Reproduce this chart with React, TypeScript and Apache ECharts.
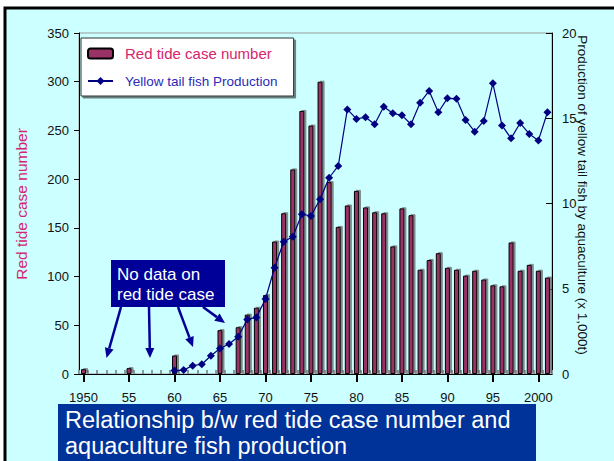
import React, { useEffect, useRef } from "react";
import * as echarts from "echarts";

const years: string[] = [];
for (let y = 1950; y <= 2001; y++) years.push(String(y));

// Red tide case number (null = no data)
const redTide: (number | null)[] = [
  5, null, null, null, null, 6, null, null, null, null,
  19, null, null, null, null, 45, null, 48, 61, 68,
  81, 136, 165, 210, 270, 255, 300, 197, 151, 173,
  188, 171, 166, 165, 131, 170, 163, 107, 117, 124,
  109, 107, 101, 106, 97, 91, 90, 135, 106, 112,
  106, 99,
];

// Yellow tail fish production by aquaculture (x 1,000 t)
const yellowTail: (number | null)[] = [
  null, null, null, null, null, null, null, null, null, null,
  0.2, 0.23, 0.49, 0.57, 1.07, 1.5, 1.76, 2.19, 3.2, 3.32,
  4.4, 6.23, 7.76, 8.05, 9.37, 9.27, 10.25, 11.51, 12.2, 15.52,
  14.96, 15.06, 14.65, 15.68, 15.29, 15.17, 14.65, 15.91, 16.6, 15.35,
  16.17, 16.15, 14.9, 14.21, 14.84, 17.05, 14.58, 13.82, 14.72, 14.08,
  13.69, 15.35,
];

const leftTicks = { min: 0, max: 350, interval: 50 };
const rightTicks = { min: 0, max: 20, interval: 5 };

const FONT = "Liberation Sans, Arial, sans-serif";
const PINK = "#d6246e";
const NAVY = "#000080";
const ANNO = "#000099";

function arrow(x1: number, y1: number, x2: number, y2: number) {
  const dx = x2 - x1;
  const dy = y2 - y1;
  const len = Math.sqrt(dx * dx + dy * dy);
  const ux = dx / len;
  const uy = dy / len;
  const hl = 10;
  const hw = 4.5;
  const bx = x2 - ux * hl;
  const by = y2 - uy * hl;
  return [
    {
      type: "line",
      z: 100,
      shape: { x1, y1, x2: bx, y2: by },
      style: { stroke: ANNO, lineWidth: 2.5 },
    },
    {
      type: "polygon",
      z: 100,
      shape: {
        points: [
          [x2, y2],
          [bx - uy * hw, by + ux * hw],
          [bx + uy * hw, by - ux * hw],
        ],
      },
      style: { fill: ANNO },
    },
  ];
}

export default function App() {
  const ref = useRef<HTMLDivElement>(null);
  useEffect(() => {
    if (!ref.current) return;
    const chart = echarts.init(ref.current, undefined, { renderer: "svg" });
    chart.setOption({
      animation: false,
      backgroundColor: "#ffffff",
      textStyle: { fontFamily: FONT },
      grid: {
        left: 79,
        right: 62,
        top: 33,
        bottom: 87,
        show: true,
        borderColor: "#999999",
        borderWidth: 1,
        backgroundColor: "transparent",
      },
      legend: {
        orient: "vertical",
        left: 81,
        top: 38,
        padding: [8, 16, 8, 6],
        itemGap: 13,
        itemWidth: 25,
        itemHeight: 10,
        backgroundColor: "#ffffff",
        borderColor: "#333333",
        borderWidth: 1,
        borderRadius: 0,
        shadowColor: "rgba(0,0,0,0.5)",
        shadowOffsetX: 2,
        shadowOffsetY: 2,
        shadowBlur: 0,
        data: [
          {
            name: "Red tide case number",
            textStyle: { color: PINK, fontSize: 15, fontFamily: FONT, padding: [0, 0, 0, 7] },
          },
          {
            name: "Yellow tail fish Production",
            textStyle: { color: "#2a2ab8", fontSize: 13.5, fontFamily: FONT, padding: [0, 0, 0, 7] },
          },
        ],
      },
      xAxis: [
        {
          type: "category",
          data: years,
          boundaryGap: true,
          axisLine: { lineStyle: { color: "#000000", width: 1 } },
          axisTick: {
            show: true,
            inside: true,
            interval: 0,
            length: 4,
            lineStyle: { color: "#8a9a9a", width: 2 },
          },
          axisLabel: {
            interval: (i: number) => i % 5 === 0,
            margin: 17,
            fontSize: 13,
            color: "#111111",
            fontFamily: FONT,
            formatter: (v: string) => (v === "1950" || v === "2000" ? v : v.slice(2)),
          },
          splitLine: { show: false },
        },
        {
          type: "category",
          data: years,
          position: "bottom",
          boundaryGap: true,
          axisLine: { show: false },
          axisLabel: { show: false },
          axisTick: {
            show: true,
            alignWithLabel: true,
            interval: (i: number) => i % 5 === 0,
            length: 8,
            lineStyle: { color: "#000000", width: 2 },
          },
          splitLine: { show: false },
        },
      ],
      yAxis: [
        {
          type: "value",
          ...leftTicks,
          position: "left",
          axisLine: { show: true, lineStyle: { color: "#000000", width: 1 } },
          axisTick: { show: true, inside: false, length: 5, lineStyle: { color: "#000000" } },
          axisLabel: { margin: 10, fontSize: 13, color: "#111111", fontFamily: FONT },
          splitLine: { show: false },
        },
        {
          type: "value",
          ...rightTicks,
          position: "right",
          axisLine: { show: true, lineStyle: { color: "#000000", width: 1 } },
          axisTick: { show: true, inside: true, length: 6, lineStyle: { color: "#000000" } },
          axisLabel: { margin: 10, fontSize: 13, color: "#111111", fontFamily: FONT },
          splitLine: { show: false },
        },
      ],
      series: [
        {
          name: "Red tide case number",
          type: "bar",
          xAxisIndex: 0,
          yAxisIndex: 0,
          data: redTide,
          barWidth: 5,
          itemStyle: {
            color: "#993366",
            borderColor: "#000000",
            borderWidth: 1,
            shadowColor: "rgba(90,90,90,0.7)",
            shadowOffsetX: 2,
            shadowOffsetY: -1,
            shadowBlur: 0,
          },
          z: 2,
        },
        {
          name: "Yellow tail fish Production",
          type: "line",
          xAxisIndex: 0,
          yAxisIndex: 1,
          data: yellowTail,
          symbol: "diamond",
          symbolSize: 8,
          showSymbol: true,
          showAllSymbol: true,
          color: NAVY,
          lineStyle: { color: NAVY, width: 1.2 },
          itemStyle: { color: NAVY },
          z: 3,
        },
      ],
      graphic: [
        {
          type: "rect",
          z: -100,
          silent: true,
          shape: { x: 5, y: 8, width: 700, height: 600 },
          style: { fill: "#ccffff", stroke: "#000000", lineWidth: 3 },
        },
        {
          type: "text",
          z: 50,
          x: 21,
          y: 204,
          rotation: Math.PI / 2,
          style: {
            text: "Red tide case number",
            fill: PINK,
            font: `15.5px ${FONT}`,
            align: "center",
            verticalAlign: "middle",
          },
        },
        {
          type: "text",
          z: 50,
          x: 582,
          y: 195,
          rotation: -Math.PI / 2,
          style: {
            text: "Production of yellow tail fish by aquaculture (x 1,000t)",
            fill: "#111111",
            font: `13.5px ${FONT}`,
            align: "center",
            verticalAlign: "middle",
          },
        },
        {
          type: "rect",
          z: 100,
          shape: { x: 111, y: 260, width: 114, height: 47 },
          style: { fill: ANNO },
        },
        {
          type: "text",
          z: 101,
          x: 117,
          y: 264,
          style: {
            text: "No data on\nred tide case",
            fill: "#ffffff",
            font: `17px ${FONT}`,
            lineHeight: 20,
            align: "left",
            verticalAlign: "top",
          },
        },
        ...arrow(121, 307, 106.5, 358),
        ...arrow(149, 307, 150, 358),
        ...arrow(178, 307, 193, 347),
        ...arrow(203, 307, 225, 323),
        {
          type: "rect",
          z: 100,
          shape: { x: 58, y: 404, width: 478, height: 70 },
          style: { fill: "#003399" },
        },
        {
          type: "text",
          z: 101,
          x: 65,
          y: 407,
          style: {
            text: "Relationship b/w red tide case number and\naquaculture fish production",
            fill: "#ffffff",
            font: `23.5px ${FONT}`,
            lineHeight: 26,
            align: "left",
            verticalAlign: "top",
          },
        },
      ],
    });
    return () => chart.dispose();
  }, []);
  return (
    <div
      ref={ref}
      style={{ position: "fixed", left: 0, top: 0, width: 614, height: 461 }}
    />
  );
}
